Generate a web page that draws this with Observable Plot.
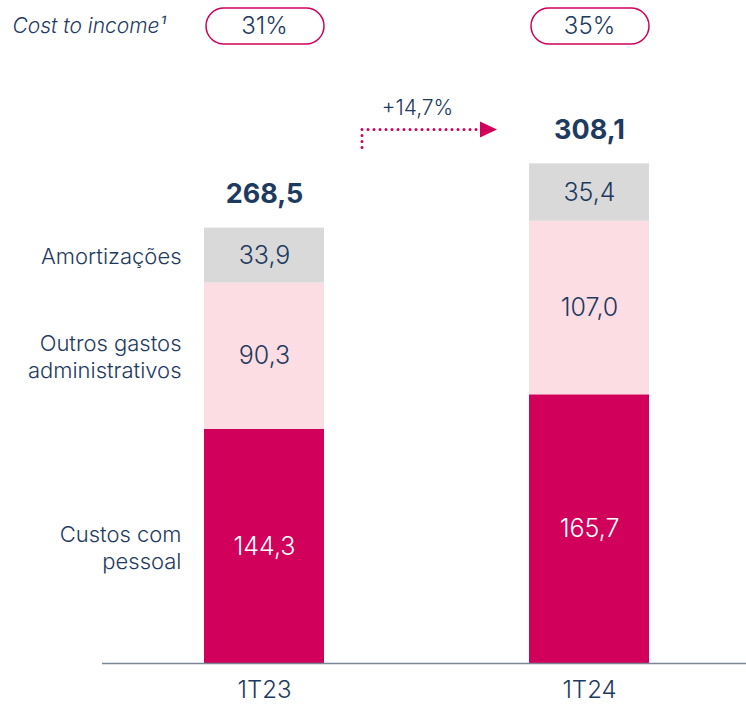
<!DOCTYPE html>
<html>
<head>
<meta charset="utf-8">
<script src="https://cdn.jsdelivr.net/npm/d3@7"></script>
<script src="https://cdn.jsdelivr.net/npm/@observablehq/plot@0.6"></script>
<style>
  html, body { margin: 0; padding: 0; background: #fff; }
  svg { display: block; }
</style>
</head>
<body>
<div id="chart"></div>
<script>
const periods = ["1T23", "1T24"];
const categories = ["personnel", "other", "amort"];
const categoryLabels = ["Custos com\npessoal", "Outros gastos\nadministrativos", "Amortizações"];
const personnel = [144.3, 165.7];
const otherAdmin = [90.3, 107.0];
const amort = [33.9, 35.4];
const totals = [268.5, 308.1];
const costToIncome = ["31%", "35%"];
const costLabel = "Cost to income¹";
const growth = "+14,7%";

const navy = "#1e3a5f";
const crimson = "#d0005b";
const fmt = v => v.toFixed(1).replace(".", ",");
const font = "Inter, 'Noto Sans', sans-serif";
const light = 300;

const series = [personnel, otherAdmin, amort];
const rows = [];
periods.forEach((p, i) => {
  categories.forEach((c, j) => {
    rows.push({period: p, category: c, value: series[j][i], label: categoryLabels[j]});
  });
});

const xScale = {domain: periods, paddingInner: 0.6308, paddingOuter: 0.306, align: 0.513, axis: null};

const headerPlot = Plot.plot({
  width: 746, height: 52,
  marginLeft: 102, marginRight: 0, marginTop: 0, marginBottom: 0,
  x: xScale,
  style: {fontFamily: font, color: navy},
  marks: [
    Plot.cell(periods, {x: d => d, fill: "white", stroke: crimson, strokeWidth: 1.5, rx: 18, insetTop: 8, insetBottom: 8, insetLeft: 2}),
    Plot.text(costToIncome, {x: (d, i) => periods[i], text: d => d, frameAnchor: "middle", fontSize: 24, fontWeight: light, fill: navy}),
    Plot.text([costLabel], {text: d => d, frameAnchor: "left", dx: -90, textAnchor: "start", fontSize: 21, fontWeight: light, fontStyle: "italic", fill: navy})
  ]
});

const arrowMark = (index, scales, values, dims) => {
  const x = scales.x, y = scales.y;
  const bw = x.bandwidth();
  const x0 = x(periods[0]) + bw + 38;
  const x1 = x(periods[1]) - 32;
  const yh = y(totals[1]) - 34;
  const g = d3.create("svg:g");
  g.append("path")
    .attr("d", `M${x0},${yh + 18}V${yh}H${x1 - 19}`)
    .attr("fill", "none")
    .attr("stroke", crimson)
    .attr("stroke-width", 3)
    .attr("stroke-linecap", "round")
    .attr("stroke-dasharray", "0 6");
  g.append("path")
    .attr("d", `M${x1},${yh}L${x1 - 17},${yh - 8}L${x1 - 17},${yh + 8}Z`)
    .attr("fill", crimson);
  return g.node();
};

const stacked = o => Plot.stackY({x: "period", y: "value", z: "category", order: null, ...o});

const mainPlot = Plot.plot({
  width: 746, height: 654,
  marginLeft: 102, marginRight: 0, marginTop: 11, marginBottom: 43,
  x: xScale,
  y: {domain: [0, 370], axis: null},
  color: {domain: categories, range: [crimson, "#fddde4", "#d9d9d9"]},
  style: {fontFamily: font, color: navy},
  marks: [
    Plot.barY(rows, Plot.stackY({x: "period", y: "value", fill: "category", order: null})),
    Plot.text(rows, {...stacked({text: d => fmt(d.value)}), filter: d => d.category === "personnel", fontSize: 25, fontWeight: light, fill: "white"}),
    Plot.text(rows, {...stacked({text: d => fmt(d.value)}), filter: d => d.category !== "personnel", fontSize: 25, fontWeight: light, fill: navy}),
    Plot.text(rows, {...stacked({text: "label"}), filter: d => d.period === periods[0], textAnchor: "end", dx: -83, fontSize: 22, fontWeight: light, lineHeight: 1.22, fill: navy}),
    Plot.text(totals, {x: (d, i) => periods[i], y: d => d, text: d => fmt(d), dy: -25, lineAnchor: "bottom", fontSize: 27, fontWeight: "bold", fill: navy}),
    Plot.text([growth], {x: () => periods[1], y: () => totals[1], text: d => d, dx: -172, dy: -56, fontSize: 21, fontWeight: light, fill: navy}),
    arrowMark,
    Plot.ruleY([0], {stroke: "#7a8595", strokeWidth: 1.5}),
    Plot.axisX({tickSize: 0, tickPadding: 17, fontSize: 24, fontWeight: light, fill: navy, label: null})
  ]
});

const el = document.getElementById("chart");
el.append(headerPlot, mainPlot);
</script>
</body>
</html>
